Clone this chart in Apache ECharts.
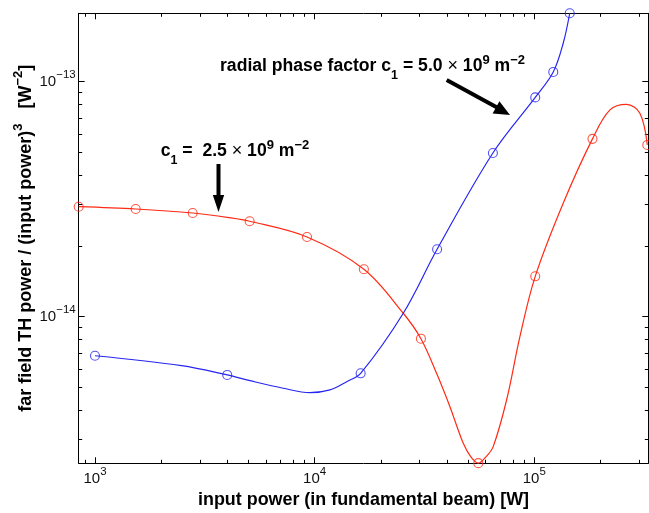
<!DOCTYPE html>
<html>
<head>
<meta charset="utf-8">
<script src="https://cdn.jsdelivr.net/npm/echarts@6/dist/echarts.min.js"></script>
<style>
html, body { margin: 0; padding: 0; background: #fff; }
#main { width: 649px; height: 513px; }
</style>
</head>
<body>
<div id="main"></div>
<script>
// circles (input power [W], far field TH power / P^3 [W^-2])
var blueMarkP = [1000, 4000, 16200, 36100, 64800, 101000, 122000, 145000];
var blueMarkY = [6.82e-15, 5.65e-15, 5.74e-15, 1.935e-14, 4.97e-14, 8.57e-14, 1.10e-13, 1.955e-13];
var redMarkP = [843, 1532, 2784, 5060, 9230, 16760, 30470, 55600, 101000, 184000, 327000];
var redMarkY = [2.937e-14, 2.872e-14, 2.762e-14, 2.547e-14, 2.183e-14, 1.591e-14, 8.06e-15, 2.38e-15, 1.485e-14, 5.71e-14, 5.38e-14];

// fitted curves
var blueCurveP = [1000, 2480, 4000, 5080, 7190, 9520, 11740, 13990, 16200, 25320, 36100, 64800, 101000, 122000, 135400, 145000];
var blueCurveY = [6.82e-15, 6.19e-15, 5.65e-15, 5.34e-15, 4.96e-15, 4.75e-15, 4.88e-15, 5.29e-15, 5.74e-15, 1.034e-14, 1.935e-14, 4.97e-14, 8.57e-14, 1.10e-13, 1.457e-13, 1.955e-13];
var redCurveP = [843, 1532, 2784, 4100, 5060, 9230, 16760, 25320, 30470, 35900, 41300, 47500, 51450, 55600, 60220, 65000, 74800, 86000, 101000, 135400, 184000, 221000, 263000, 302500, 327000];
var redCurveY = [2.937e-14, 2.872e-14, 2.762e-14, 2.638e-14, 2.547e-14, 2.183e-14, 1.591e-14, 1.034e-14, 8.06e-15, 5.74e-15, 4.14e-15, 2.89e-15, 2.53e-15, 2.38e-15, 2.53e-15, 2.80e-15, 4.42e-15, 8.22e-15, 1.485e-14, 3.04e-14, 5.71e-14, 7.58e-14, 8.01e-14, 7.34e-14, 5.38e-14];

// axes (decade exponents for the labels, minor ticks in real units)
var xRange = [843, 330400];
var yRange = [2.377e-15, 1.954e-13];
var xTickExp = [3, 4, 5];
var yTickExp = [-14, -13];
var xMinor = [900, 2000, 3000, 4000, 5000, 6000, 7000, 8000, 9000,
  20000, 30000, 40000, 50000, 60000, 70000, 80000, 90000, 200000, 300000];
var yMinor = [3e-15, 4e-15, 5e-15, 6e-15, 7e-15, 8e-15, 9e-15,
  2e-14, 3e-14, 4e-14, 5e-14, 6e-14, 7e-14, 8e-14, 9e-14];

var RED = '#ff2a14';
var BLUE = '#2626f2';
var FONT = '"Liberation Sans", Arial, Helvetica, sans-serif';

function lg(v) { return Math.log10(v); }
function pairs(xs, ys) { return xs.map(function (x, i) { return [lg(x), lg(ys[i])]; }); }

var tickRich = {
  b: { fontSize: 15, lineHeight: 15, verticalAlign: 'bottom', fontFamily: FONT, color: '#111' },
  s: { fontSize: 11.5, lineHeight: 12, verticalAlign: 'bottom', padding: [0, 0, 8, 0], fontFamily: FONT, color: '#111' }
};

function mkAxis(pos, range, ticks, len, line, extra) {
  var ax = {
    type: 'value',
    position: pos,
    min: lg(range[0]),
    max: lg(range[1]),
    splitLine: { show: false },
    axisLine: { show: line, onZero: false, lineStyle: { color: '#000', width: 1 } },
    axisTick: { show: true, inside: true, length: len, customValues: ticks, lineStyle: { color: '#000', width: 1 } },
    axisLabel: { show: false }
  };
  for (var k in extra) ax[k] = extra[k];
  return ax;
}

var chart = echarts.init(document.getElementById('main'));

var option = {
  animation: false,
  backgroundColor: '#fff',
  grid: { left: 78.7, right: 0.7, top: 13.3, bottom: 49.7, containLabel: false, outerBoundsMode: 'none' },
  xAxis: [
    mkAxis('bottom', xRange, xTickExp, 6, true, {
      axisLabel: {
        show: true, margin: 8, customValues: xTickExp,
        formatter: function (v) { return '{b|10}{s|' + Math.round(v) + '}'; },
        rich: tickRich
      },
      name: '{t|input power (in fundamental beam) [W]}',
      nameLocation: 'middle',
      nameGap: 28,
      nameMoveOverlap: false,
      nameTextStyle: { rich: { t: { fontSize: 17.9, fontWeight: 'bold', fontFamily: FONT, color: '#000' } } }
    }),
    mkAxis('bottom', xRange, xMinor.map(lg), 3.5, false, {}),
    mkAxis('top', xRange, xTickExp, 6, true, {}),
    mkAxis('top', xRange, xMinor.map(lg), 3.5, false, {})
  ],
  yAxis: [
    mkAxis('left', yRange, yTickExp, 6, true, {
      axisLabel: {
        show: true, margin: 3, customValues: yTickExp,
        formatter: function (v) { return '{b|10}{s|\u2212' + Math.round(-v) + '}'; },
        rich: tickRich
      },
      name: '{t|far field TH power / (input power)}{s|3}{t|   [W}{s|\u22122}{t|]}',
      nameLocation: 'middle',
      nameRotate: 90,
      nameGap: 44,
      nameMoveOverlap: false,
      nameTextStyle: {
        rich: {
          t: { fontSize: 18, lineHeight: 18, fontWeight: 'bold', verticalAlign: 'bottom', fontFamily: FONT, color: '#000' },
          s: { fontSize: 13, lineHeight: 13, fontWeight: 'bold', verticalAlign: 'bottom', padding: [0, 0, 10, 0], fontFamily: FONT, color: '#000' }
        }
      }
    }),
    mkAxis('left', yRange, yMinor.map(lg), 3.5, false, {}),
    mkAxis('right', yRange, yTickExp, 6, true, {}),
    mkAxis('right', yRange, yMinor.map(lg), 3.5, false, {})
  ],
  series: [
    {
      type: 'line', data: pairs(redCurveP, redCurveY), smooth: 0.35, showSymbol: false,
      lineStyle: { color: RED, width: 1.2 }, clip: true, silent: true
    },
    {
      type: 'scatter', data: pairs(redMarkP, redMarkY), symbol: 'circle', symbolSize: 9, clip: false,
      itemStyle: { color: 'rgba(0,0,0,0)', borderColor: RED, borderWidth: 1.1 }
    },
    {
      type: 'line', data: pairs(blueCurveP, blueCurveY), smooth: 0.35, showSymbol: false,
      lineStyle: { color: BLUE, width: 1.2 }, clip: true, silent: true
    },
    {
      type: 'scatter', data: pairs(blueMarkP, blueMarkY), symbol: 'circle', symbolSize: 9, clip: false,
      itemStyle: { color: 'rgba(0,0,0,0)', borderColor: BLUE, borderWidth: 1.1 }
    }
  ]
};

var noteRich = {
  t: { fontSize: 17.6, lineHeight: 18, fontWeight: 'bold', verticalAlign: 'bottom', padding: [0, 0, 7, 0], fontFamily: FONT, fill: '#000' },
  b: { fontSize: 12.5, lineHeight: 12, fontWeight: 'bold', verticalAlign: 'bottom', fontFamily: FONT, fill: '#000' },
  p: { fontSize: 13, lineHeight: 13, fontWeight: 'bold', verticalAlign: 'bottom', padding: [0, 0, 15, 0], fontFamily: FONT, fill: '#000' },
  x: { fontSize: 18, lineHeight: 18, fontWeight: 'normal', verticalAlign: 'bottom', padding: [0, 0, 7, 0], fontFamily: FONT, fill: '#000' }
};

option.graphic = [
  {
    type: 'text', x: 220, y: 64, silent: true,
    style: {
      text: '{t|radial phase factor c}{b|1}{t| = 5.0 }{x|\u00d7}{t| 10}{p|9}{t| m}{p|\u22122}',
      rich: noteRich
    }
  },
  {
    type: 'text', x: 160.7, y: 149, silent: true,
    style: {
      text: '{t|c}{b|1}{t| =  2.5 }{x|\u00d7}{t| 10}{p|9}{t| m}{p|\u22122}',
      rich: noteRich
    }
  },
  { type: 'line', silent: true, shape: { x1: 446.7, y1: 80, x2: 498, y2: 108 }, style: { stroke: '#000', lineWidth: 4 } },
  { type: 'polygon', silent: true, shape: { points: [[510, 115], [492.6, 113.4], [499.4, 101.2]] }, style: { fill: '#000' } },
  { type: 'line', silent: true, shape: { x1: 218.5, y1: 164, x2: 218.5, y2: 197 }, style: { stroke: '#000', lineWidth: 4 } },
  { type: 'polygon', silent: true, shape: { points: [[212.8, 195], [224.2, 195], [218.5, 212]] }, style: { fill: '#000' } }
];

chart.setOption(option);
</script>
</body>
</html>
